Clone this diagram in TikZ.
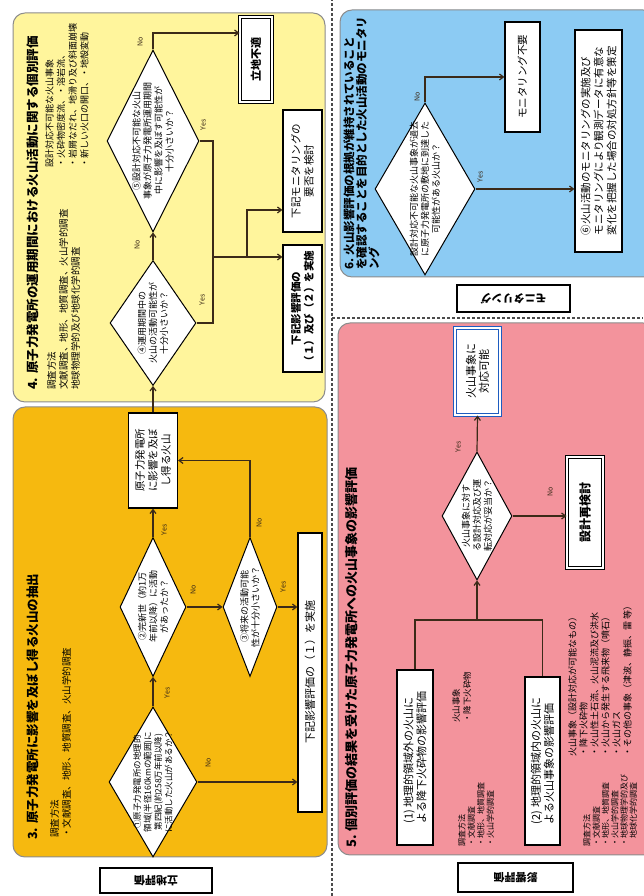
\documentclass[tikz,border=0pt]{standalone}
\usepackage{fontspec}
\setmainfont{Noto Sans CJK JP}
\usepackage{xcolor}
\usepackage{tikz}
\usetikzlibrary{arrows.meta,shapes.geometric}

\definecolor{panelorange}{HTML}{F6B90F}
\definecolor{panelyellow}{HTML}{FFF59C}
\definecolor{panelpink}{HTML}{F3939C}
\definecolor{panelblue}{HTML}{8CCBF3}
\definecolor{linebrown}{HTML}{3B2A18}
\definecolor{okblue}{HTML}{1E5CC0}

\begin{document}
\begin{tikzpicture}[x=10pt, y=10pt, >={Straight Barb[length=4pt,width=6pt]},
  panel/.style={draw=black!45, line width=1pt, rounded corners=12pt},
  divider/.style={draw=black!70, line width=1.2pt, dash pattern=on 3pt off 2pt},
  ttl/.style={anchor=west, inner sep=0pt, font=\fontsize{12.5}{14}\selectfont\bfseries},
  txt/.style={anchor=north west, inner sep=0pt, align=left, font=\fontsize{9.5}{12}\selectfont},
  flowbox/.style={draw, fill=white, line width=1.2pt, align=center, inner sep=1pt, font=\fontsize{10.5}{13}\selectfont},
  dblbox/.style={flowbox, double=white, double distance=1.6pt, line width=1pt, font=\fontsize{11}{13}\selectfont\bfseries},
  decision/.style={diamond, draw, fill=white, line width=1pt, inner sep=-7pt, align=center, font=\fontsize{9}{11}\selectfont},
  flowline/.style={draw=linebrown, line width=1.2pt},
  yn/.style={inner sep=0pt, text=linebrown, font=\fontsize{7}{8}\selectfont},
  tagbox/.style={draw, fill=white, line width=1.2pt, rotate=90, font=\fontsize{11}{13}\selectfont\bfseries}]
\begin{scope}[rotate=90, transform shape]
  \fill[white] (0,0) rectangle (89.6,-64.3);
  \useasboundingbox (0,0) rectangle (89.6,-64.3);

  % --- Panels and dividers ---
  \draw[panel, fill=panelorange] (3.9,-1.3) rectangle (48.9,-32.7);
  \draw[panel, fill=panelyellow] (49.4,-1.3) rectangle (88.3,-32.5);
  \draw[panel, fill=panelpink] (4.1,-33.8) rectangle (57.3,-65.5);
  \draw[panel, fill=panelblue] (61.9,-34.0) rectangle (88.6,-65.5);
  \draw[divider] (0,-33.2) -- (89.6,-33.2);
  \draw[divider] (57.8,-33.2) -- (57.8,-64.3);

  % --- Stage tags ---
  \node[tagbox, minimum width=112pt, minimum height=25pt] (tagsite) at (1.55,-15.6) {立地評価};
  \node[tagbox, minimum width=115pt, minimum height=29pt] (tagimpact) at (1.85,-51.55) {影響評価};
  \node[tagbox, minimum width=113pt, minimum height=27pt] (tagmon) at (59.75,-51.35) {モニタリング};

  % --- 3: volcano extraction ---
  \node[ttl] (t3) at (5.6,-3.3) {3. 原子力発電所に影響を及ぼし得る火山の抽出};
  \node[txt] (m3) at (5.8,-5.0) {調査方法\\・文献調査、地形、地質調査、火山学的調査};
  \node[decision, minimum width=150pt, minimum height=88pt, aspect=1.7, font=\fontsize{8.5}{10.5}\selectfont] (d31) at (11.4,-15.3)
    {①原子力発電所の地理的\\領域(半径160kmの範囲)に\\第四紀(約258万年前以降)\\に活動した火山があるか？};
  \node[decision, minimum width=139pt, minimum height=66pt, aspect=2.1] (d32) at (28.9,-15.3)
    {②完新世（約1万\\年前以降）に活動\\があったか？};
  \node[decision, minimum width=139pt, minimum height=54pt, aspect=2.6] (d33) at (28.9,-25.0)
    {③将来の活動可能\\性が十分小さいか？};
  \node[flowbox, minimum width=95pt, minimum height=49pt] (b31) at (43.55,-15.3) {原子力発電所\\に影響を及ぼ\\し得る火山};
  \node[flowbox, minimum width=279pt, minimum height=24pt, font=\fontsize{11}{13}\selectfont] (b32) at (22.35,-31.0) {下記影響評価の（１）を実施};

  % --- 4: individual evaluation ---
  \node[ttl] (t4) at (50.6,-3.3) {4. 原子力発電所の運用期間における火山活動に関する個別評価};
  \node[txt] (m4) at (50.6,-4.7) {調査方法\\文献調査、地形、地質調査、火山学的調査\\地球物理学的及び地球化学的調査};
  \node[txt, font=\fontsize{9}{11.7}\selectfont] (n4) at (72.8,-4.5)
    {設計対応不可能な火山事象\\・火砕物密度流、・溶岩流、\\・岩屑なだれ、地滑り及び斜面崩壊\\・新しい火口の開口、・地殻変動};
  \node[decision, minimum width=125pt, minimum height=86pt, aspect=1.45] (y41) at (57.3,-15.3)
    {④運用期間中の\\火山の活動可能性が\\十分小さいか？};
  \node[decision, minimum width=182pt, minimum height=92pt, aspect=1.98] (y42) at (75.5,-15.3)
    {⑤設計対応不可能な火山\\事象が原子力発電所運用期間\\中に影響を及ぼす可能性が\\十分小さいか？};
  \node[dblbox, minimum width=85pt, minimum height=32pt] (b41) at (83.65,-25.6) {立地不適};
  \node[flowbox, minimum width=122pt, minimum height=39pt] (b42) at (72.5,-30.25) {下記モニタリングの\\要否を検討};
  \node[flowbox, minimum width=127pt, minimum height=39pt, font=\fontsize{10.5}{13}\selectfont\bfseries] (b43) at (58.75,-30.25)
    {下記影響評価の\\（１）及び（２）を実施};

  % --- 5: impact evaluation ---
  \node[ttl, font=\fontsize{13}{15}\selectfont\bfseries] (t5) at (4.8,-35.2) {5. 個別評価の結果を受けた原子力発電所への火山事象の影響評価};
  \node[flowbox, align=left, minimum width=175pt, minimum height=36pt, font=\fontsize{11}{13}\selectfont] (b51) at (13.85,-41.5)
    {(1) 地理的領域外の火山に\\よる降下火砕物の影響評価};
  \node[flowbox, align=left, minimum width=168pt, minimum height=35pt, font=\fontsize{11}{13}\selectfont] (b52) at (13.5,-54.25)
    {(2) 地理的領域内の火山に\\よる火山事象の影響評価};
  \node[txt, font=\fontsize{8}{9.5}\selectfont] (m51) at (4.9,-45.8) {調査方法\\・文献調査\\・地形、地質調査\\・火山学的調査};
  \node[txt, font=\fontsize{8.5}{11}\selectfont] (e51) at (17.3,-45.2) {火山事象\\・降下火砕物};
  \node[txt, font=\fontsize{8}{9.3}\selectfont] (m52) at (4.9,-58.3)
    {調査方法\\・文献調査\\・地形、地質調査\\・火山学的調査\\・地球物理学的及び\\　地球化学的調査};
  \node[txt, font=\fontsize{9}{11}\selectfont] (e52) at (13.9,-56.8)
    {火山事象（設計対応が可能なもの）\\・降下火砕物\\・火山性土石流、火山泥流及び洪水\\・火山から発生する飛来物（噴石）\\・火山ガス\\・その他の事象（津波、静振、雷 等）};
  \node[decision, minimum width=128pt, minimum height=70pt, aspect=1.83] (d51) at (38.0,-47.7)
    {火山事象に対す\\る設計対応及び運\\転対応が妥当か？};
  \node[dblbox, draw=okblue, minimum width=87pt, minimum height=45pt, font=\fontsize{11}{13}\selectfont] (b53) at (52.45,-47.75) {火山事象に\\対応可能};
  \node[dblbox, minimum width=111pt, minimum height=36pt, font=\fontsize{12}{14}\selectfont\bfseries] (b54) at (38.35,-58.5) {設計再検討};

  % --- 6: monitoring ---
  \node[ttl, anchor=north west, align=left, font=\fontsize{11.5}{12.5}\selectfont\bfseries] (t6) at (62.6,-34.3)
    {6. 火山影響評価の根拠が維持されていること\\を確認することを目的とした火山活動のモニタリ\\ング};
  \node[decision, minimum width=172pt, minimum height=100pt, aspect=1.72] (d61) at (70.7,-42.5)
    {設計対応不可能な火山事象が過去\\に原子力発電所の敷地に到達した\\可能性がある火山か？};
  \node[flowbox, minimum width=110pt, minimum height=35pt] (b61) at (81.9,-52.25) {モニタリング不要};
  \node[flowbox, align=left, minimum width=222pt, minimum height=47pt] (b62) at (75.5,-59.85)
    {⑥火山活動のモニタリングの実施及び\\モニタリングにより観測データに有意な\\変化を把握した場合の対処方針等を策定};

  % --- Connectors ---
  \coordinate (j4a) at (63.9,-21.3);
  \coordinate (j4b) at (63.9,-24.7);
  \coordinate (j4c) at (68.6,-24.7);
  \coordinate (c42) at (86.3,-15.3);
  \coordinate (j5) at (27.6,-47.7);
  \draw[flowline, ->] (d31.east) -- (d32.west);
  \draw[flowline, ->] (d31.south) -- (d31.south |- b32.north);
  \draw[flowline, ->] (d32.east) -- (b31.west);
  \draw[flowline, ->] (d32.south) -- (d33.north);
  \draw[flowline, ->] (d33.east) -| (b31.south);
  \draw[flowline, ->] (d33.south) -- (d33.south |- b32.north);
  \draw[flowline, ->] (b31.east) -- (y41.west);
  \draw[flowline, ->] (y41.east) -- (y42.west);
  \draw[flowline, ->] (y42.east) -- (c42) -- (c42 |- b41.north);
  \draw[flowline] (y41.south) |- (j4a);
  \draw[flowline] (y42.south) |- (j4a);
  \draw[flowline, ->] (j4a) -- (j4a |- b43.north);
  \draw[flowline, ->] (j4b) -- (j4c) -- (j4c |- b42.north);
  \draw[flowline] (b51.east) -| (j5);
  \draw[flowline] (b52.east) -| (j5);
  \draw[flowline, ->] (j5) -- (d51.west);
  \draw[flowline, ->] (d51.east) -- (b53.west);
  \draw[flowline, ->] (d51.south) -- (d51.south |- b54.north);
  \draw[flowline, ->] (d61.east) -| (b61.north);
  \draw[flowline, ->] (d61.south) -- (d61.south |- b62.north);

  % --- Yes / No labels ---
  \node[yn] (l31) at (20.3,-16.7) {Yes};
  \node[yn] (l32) at (13.3,-20.8) {No};
  \node[yn] (l33) at (36.6,-16.4) {Yes};
  \node[yn] (l34) at (30.6,-19.3) {No};
  \node[yn] (l35) at (37.3,-25.9) {No};
  \node[yn] (l36) at (30.9,-28.3) {Yes};
  \node[yn] (l41) at (65.1,-13.7) {No};
  \node[yn] (l42) at (85.4,-14.0) {No};
  \node[yn] (l43) at (77.1,-20.3) {Yes};
  \node[yn] (l44) at (59.6,-20.2) {Yes};
  \node[yn] (l51) at (44.9,-45.8) {Yes};
  \node[yn] (l52) at (40.4,-55.0) {No};
  \node[yn] (l61) at (79.9,-41.7) {No};
  \node[yn] (l62) at (71.9,-48.0) {Yes};
\end{scope}
\end{tikzpicture}
\end{document}
